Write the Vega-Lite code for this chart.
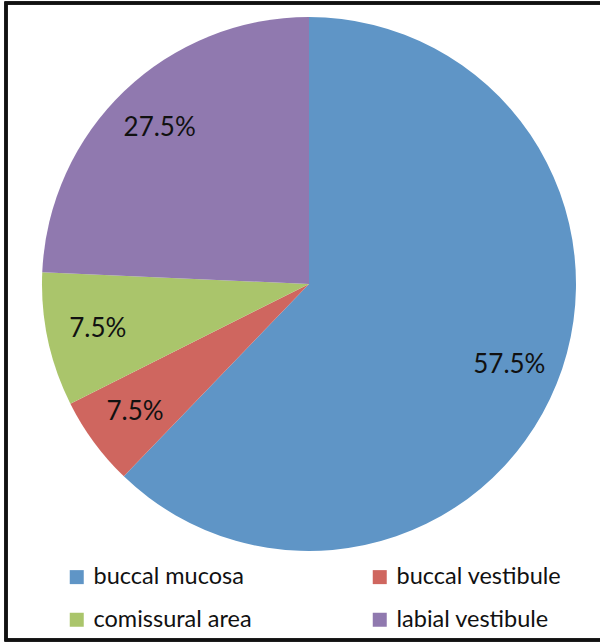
{
  "$schema": "https://vega.github.io/schema/vega-lite/v6.json",
  "width": 600,
  "height": 637,
  "autosize": "none",
  "padding": {"left": 6, "top": 3, "right": 0, "bottom": 2},
  "background": "white",
  "data": {
    "values": [
      {"idx": 1, "region": "buccal mucosa", "value": 62.2, "label": "57.5%"},
      {"idx": 2, "region": "buccal vestibule", "value": 5.4, "label": "7.5%"},
      {"idx": 3, "region": "comissural area", "value": 8.1, "label": "7.5%"},
      {"idx": 4, "region": "labial vestibule", "value": 24.3, "label": "27.5%"}
    ]
  },
  "layer": [
    {
      "mark": {"type": "rect", "fill": null, "fillOpacity": 0, "stroke": "#111111", "strokeWidth": 3},
      "encoding": {}
    },
    {
      "mark": {"type": "arc", "outerRadius": 267, "x": 303, "y": 281},
      "encoding": {
        "theta": {"field": "value", "type": "quantitative", "stack": true},
        "order": {"field": "idx", "type": "quantitative"},
        "color": {
          "field": "region",
          "type": "nominal",
          "scale": {
            "domain": ["buccal mucosa", "buccal vestibule", "comissural area", "labial vestibule"],
            "range": ["#5f95c6", "#cf665f", "#aac56b", "#9079af"]
          },
          "legend": {
            "title": null,
            "orient": "none",
            "legendX": 59,
            "legendY": 562,
            "columns": 2,
            "direction": "horizontal",
            "symbolType": "square",
            "symbolSize": 196,
            "symbolStrokeWidth": 0,
            "labelFontSize": 23.5,
            "labelColor": "#111111",
            "labelOffset": 5,
            "columnPadding": 116,
            "rowPadding": 18,
            "padding": 0,
            "labelLimit": 300
          }
        }
      }
    },
    {
      "mark": {"type": "text", "radius": 216, "x": 303, "y": 281, "fontSize": 26, "fill": "#111111"},
      "encoding": {
        "theta": {"field": "value", "type": "quantitative", "stack": true},
        "order": {"field": "idx", "type": "quantitative"},
        "detail": {"field": "region", "type": "nominal"},
        "text": {"field": "label", "type": "nominal"}
      }
    }
  ],
  "config": {
    "font": "Lato",
    "view": {"stroke": null}
  }
}
